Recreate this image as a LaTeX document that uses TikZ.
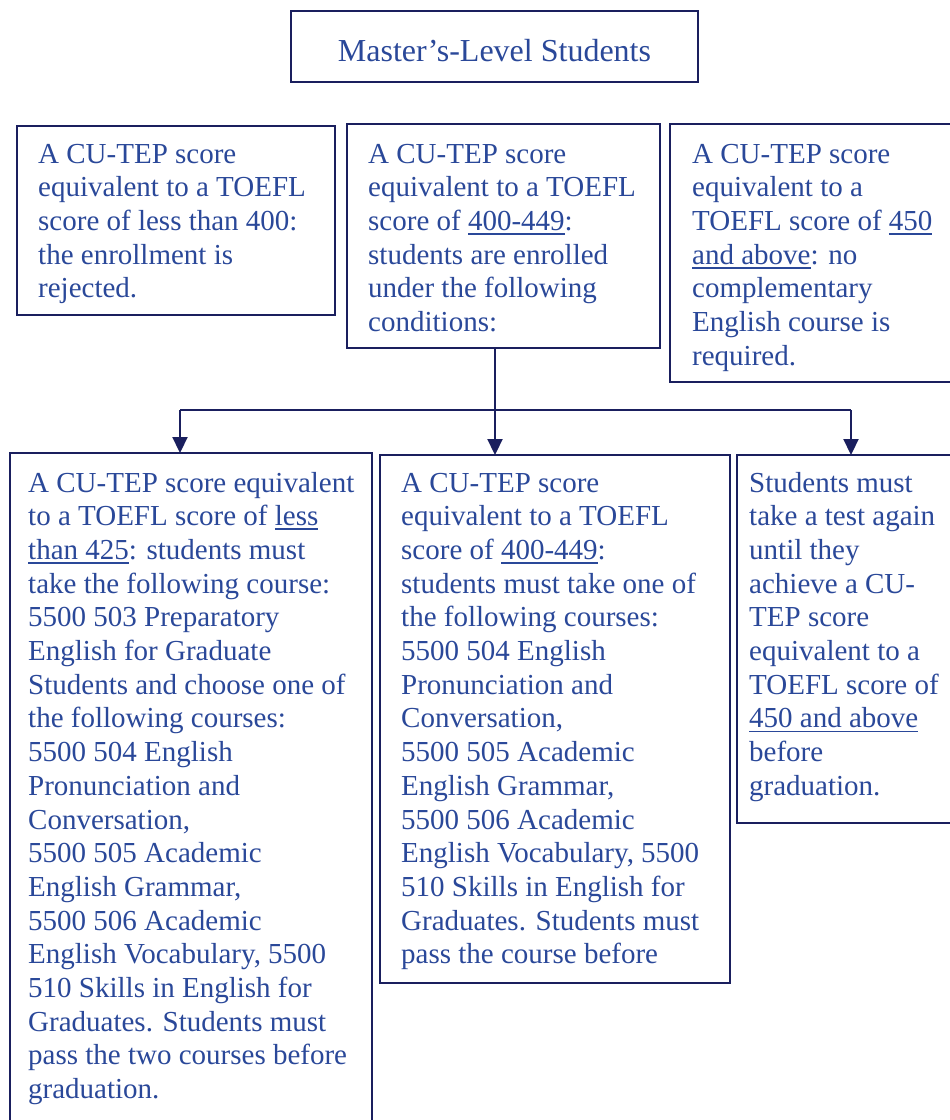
\documentclass[tikz,border=0pt]{standalone}
\usepackage{fontspec}
\setmainfont{Liberation Serif}
\usetikzlibrary{arrows.meta}
\definecolor{navy}{HTML}{1A1F5E}
\definecolor{txtblue}{HTML}{2A4899}
\newcommand{\bodyfont}{\fontsize{29}{33.7}\selectfont}
\newcommand{\titlefont}{\fontsize{32}{36}\selectfont}
\newcommand{\myul}[1]{\leavevmode\setbox0\hbox{#1}\rlap{\rule[-4.5pt]{\wd0}{1.8pt}}\box0}
\newcommand{\txtpar}[1]{\parbox[t]{420pt}{\raggedright #1}}
\begin{document}
\begin{tikzpicture}[x=1pt,y=-1pt,
  box/.style={draw=navy, line width=2pt, anchor=north west, inner sep=0pt, outer sep=0pt},
  txt/.style={anchor=base west, inner sep=0pt, text=txtblue, font=\bodyfont},
  conn/.style={draw=navy, line width=2.2pt},
  arr/.style={conn, -{Triangle[width=15pt,length=16pt]}}]
\useasboundingbox (0,0) rectangle (950,1120);
\clip (0,0) rectangle (950,1120);
\fill[white] (0,0) rectangle (950,1120);

% boxes
\node[box, minimum width=407pt, minimum height=71pt] (top) at (291,11) {};
\node[box, minimum width=318pt, minimum height=189pt] (b1) at (17,126) {};
\node[box, minimum width=313pt, minimum height=224pt] (b2) at (347,124) {};
\node[box, minimum width=290pt, minimum height=258pt] (b3) at (670,124) {};
\node[box, minimum width=362pt, minimum height=690pt] (c1) at (10,453) {};
\node[box, minimum width=350pt, minimum height=528pt] (c2) at (380,455) {};
\node[box, minimum width=225pt, minimum height=368pt] (c3) at (737,455) {};

% texts
\node[anchor=base, inner sep=0pt, text=txtblue, font=\titlefont] (ttitle) at (494.5,61) {Master’s-Level Students};

\node[txt] (t1) at (38,163) {\txtpar{A CU-TEP score\\ equivalent to a TOEFL\\ score of less than 400:\\ the enrollment is\\ rejected.}};

\node[txt] (t2) at (368,163) {\txtpar{A CU-TEP score\\ equivalent to a TOEFL\\ score of \myul{400-449}:\\ students are enrolled\\ under the following\\ conditions:}};

\node[txt] (t3) at (692,163) {\txtpar{A CU-TEP score\\ equivalent to a\\ TOEFL score of \myul{450}\\ \myul{and above}: no\\ complementary\\ English course is\\ required.}};

\node[txt] (u1) at (28,492) {\txtpar{A CU-TEP score equivalent\\ to a TOEFL score of \myul{less}\\ \myul{than 425}: students must\\ take the following course:\\ 5500 503 Preparatory\\ English for Graduate\\ Students and choose one of\\ the following courses:\\ 5500 504 English\\ Pronunciation and\\ Conversation,\\ 5500 505 Academic\\ English Grammar,\\ 5500 506 Academic\\ English Vocabulary, 5500\\ 510 Skills in English for\\ Graduates. Students must\\ pass the two courses before\\ graduation.}};

\node[txt] (u2) at (401,492) {\txtpar{A CU-TEP score\\ equivalent to a TOEFL\\ score of \myul{400-449}:\\ students must take one of\\ the following courses:\\ 5500 504 English\\ Pronunciation and\\ Conversation,\\ 5500 505 Academic\\ English Grammar,\\ 5500 506 Academic\\ English Vocabulary, 5500\\ 510 Skills in English for\\ Graduates. Students must\\ pass the course before}};

\node[txt] (u3) at (749,492) {\txtpar{Students must\\ take a test again\\ until they\\ achieve a CU-\\ TEP score\\ equivalent to a\\ TOEFL score of\\ \myul{450 and above}\\ before\\ graduation.}};

% connectors
\coordinate (jm) at (495,410);
\coordinate (jl) at (180,410);
\coordinate (jr) at (851,410);
\draw[arr] (jm |- b2.south) -- (jm |- c2.north);
\draw[conn] (jl) -- (jr);
\draw[arr] (jl) -- (jl |- c1.north);
\draw[arr] (jr) -- (jr |- c3.north);
\end{tikzpicture}
\end{document}
